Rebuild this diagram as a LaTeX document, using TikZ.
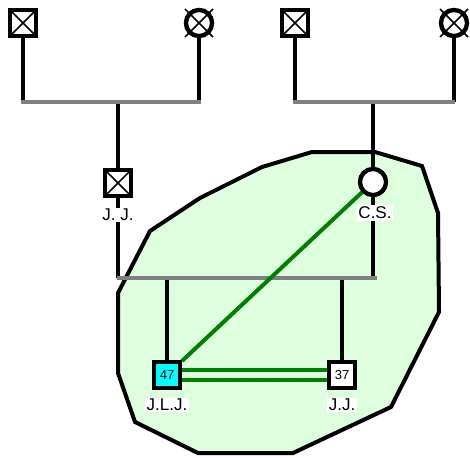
\documentclass[tikz,border=0pt]{standalone}
\usepackage{fontspec}
\setmainfont{Liberation Sans}
\definecolor{mintfill}{HTML}{DDFFDD}
\definecolor{kinline}{HTML}{808080}
\definecolor{bondgreen}{HTML}{008000}
\definecolor{probandcyan}{HTML}{00FFFF}
\begin{document}
\begin{tikzpicture}[x=1pt,y=-1pt,
  male/.style={draw=black, line width=4.2pt, fill=white, minimum size=26pt, inner sep=0pt, font=\fontsize{13}{13}\selectfont},
  female/.style={draw=black, line width=4.2pt, fill=white, circle, minimum size=26pt, inner sep=0pt},
  deceased/.style={path picture={\draw[line width=1.6pt]
      (path picture bounding box.north west) -- (path picture bounding box.south east)
      (path picture bounding box.north east) -- (path picture bounding box.south west);}},
  tag/.style={fill=white, inner sep=1.5pt, font=\fontsize{17}{17}\selectfont},
  kin/.style={line width=4pt, black},
  bar/.style={line width=4.5pt, kinline},
  bond/.style={line width=4pt, bondgreen}]
\useasboundingbox (0,0) rectangle (470,457);

% household boundary
\draw[line width=4pt, fill=mintfill, line join=miter]
  (312,152) -- (375,152) -- (422,166) -- (438,213) -- (439,312) -- (391,407)
  -- (293,453) -- (198,453) -- (135,422) -- (118,373) -- (118,293)
  -- (150,231) -- (200,198) -- (262,167) -- cycle;

% sibship / marriage points
\coordinate (m1) at (118,102);
\coordinate (m2) at (373,102);
\coordinate (m3) at (342,278);
\coordinate (m1l) at (21,102);
\coordinate (m1r) at (201,102);
\coordinate (m2l) at (293,102);
\coordinate (m2r) at (455,102);
\coordinate (m3l) at (117,278);
\coordinate (m3r) at (377,278);
\coordinate (c1) at (167,278);
\coordinate (c2) at (342,278);

% people
\node[male, deceased] (gf1) at (23,23) {};
\node[female] (gm1) at (199,23) {};
\node[male, deceased] (gf2) at (295,23) {};
\node[female] (gm2) at (454,23) {};
\node[male, deceased] (jj) at (118,183) {};
\node[female] (cs) at (373,182) {};
\node[male, fill=probandcyan] (jlj) at (167,375) {47};
\node[male] (jjb) at (342,375) {37};

% lines of descent
\draw[kin] (gf1) -- (gf1 |- m1);
\draw[kin] (gm1) -- (gm1 |- m1);
\draw[kin] (gf2) -- (gf2 |- m2);
\draw[kin] (gm2) -- (gm2 |- m2);
\draw[kin] (m1) -- (jj);
\draw[kin] (m2) -- (cs);
\draw[kin] (jj) -- (jj |- m3);
\draw[kin] (cs) -- (cs |- m3);
\draw[kin] (c1) -- (jlj);
\draw[kin] (c2) -- (jjb);
\draw[bar] (m1l) -- (m1r);
\draw[bar] (m2l) -- (m2r);
\draw[bar] (m3l) -- (m3r);

% redraw the nodes above the lines
\node[male, deceased] at (gf1) {};
\node[male, deceased] at (gf2) {};
\node[female] (gm1b) at (gm1) {};
\node[female] (gm2b) at (gm2) {};
\foreach \n in {gm1,gm2}{
  \draw[line width=1.6pt] ([shift={(-14pt,-14pt)}]\n.center) -- ([shift={(14pt,14pt)}]\n.center)
    ([shift={(14pt,-14pt)}]\n.center) -- ([shift={(-14pt,14pt)}]\n.center);
}
\node[male, deceased] at (jj) {};
\node[female] at (cs) {};

% relationships
\draw[bond] (jlj) -- (cs);
\draw[bond, double=mintfill, double distance=6pt] (jlj) -- (jjb);
\node[male, fill=probandcyan] at (jlj) {47};
\node[male] at (jjb) {37};

% names
\node[tag] (ljj) at (118,215) {J. J.};
\node[tag] (lcs) at (375,213) {C.S.};
\node[tag] (ljlj) at (167,405) {J.L.J.};
\node[tag] (ljjb) at (342,405) {J.J.};
\end{tikzpicture}
\end{document}
